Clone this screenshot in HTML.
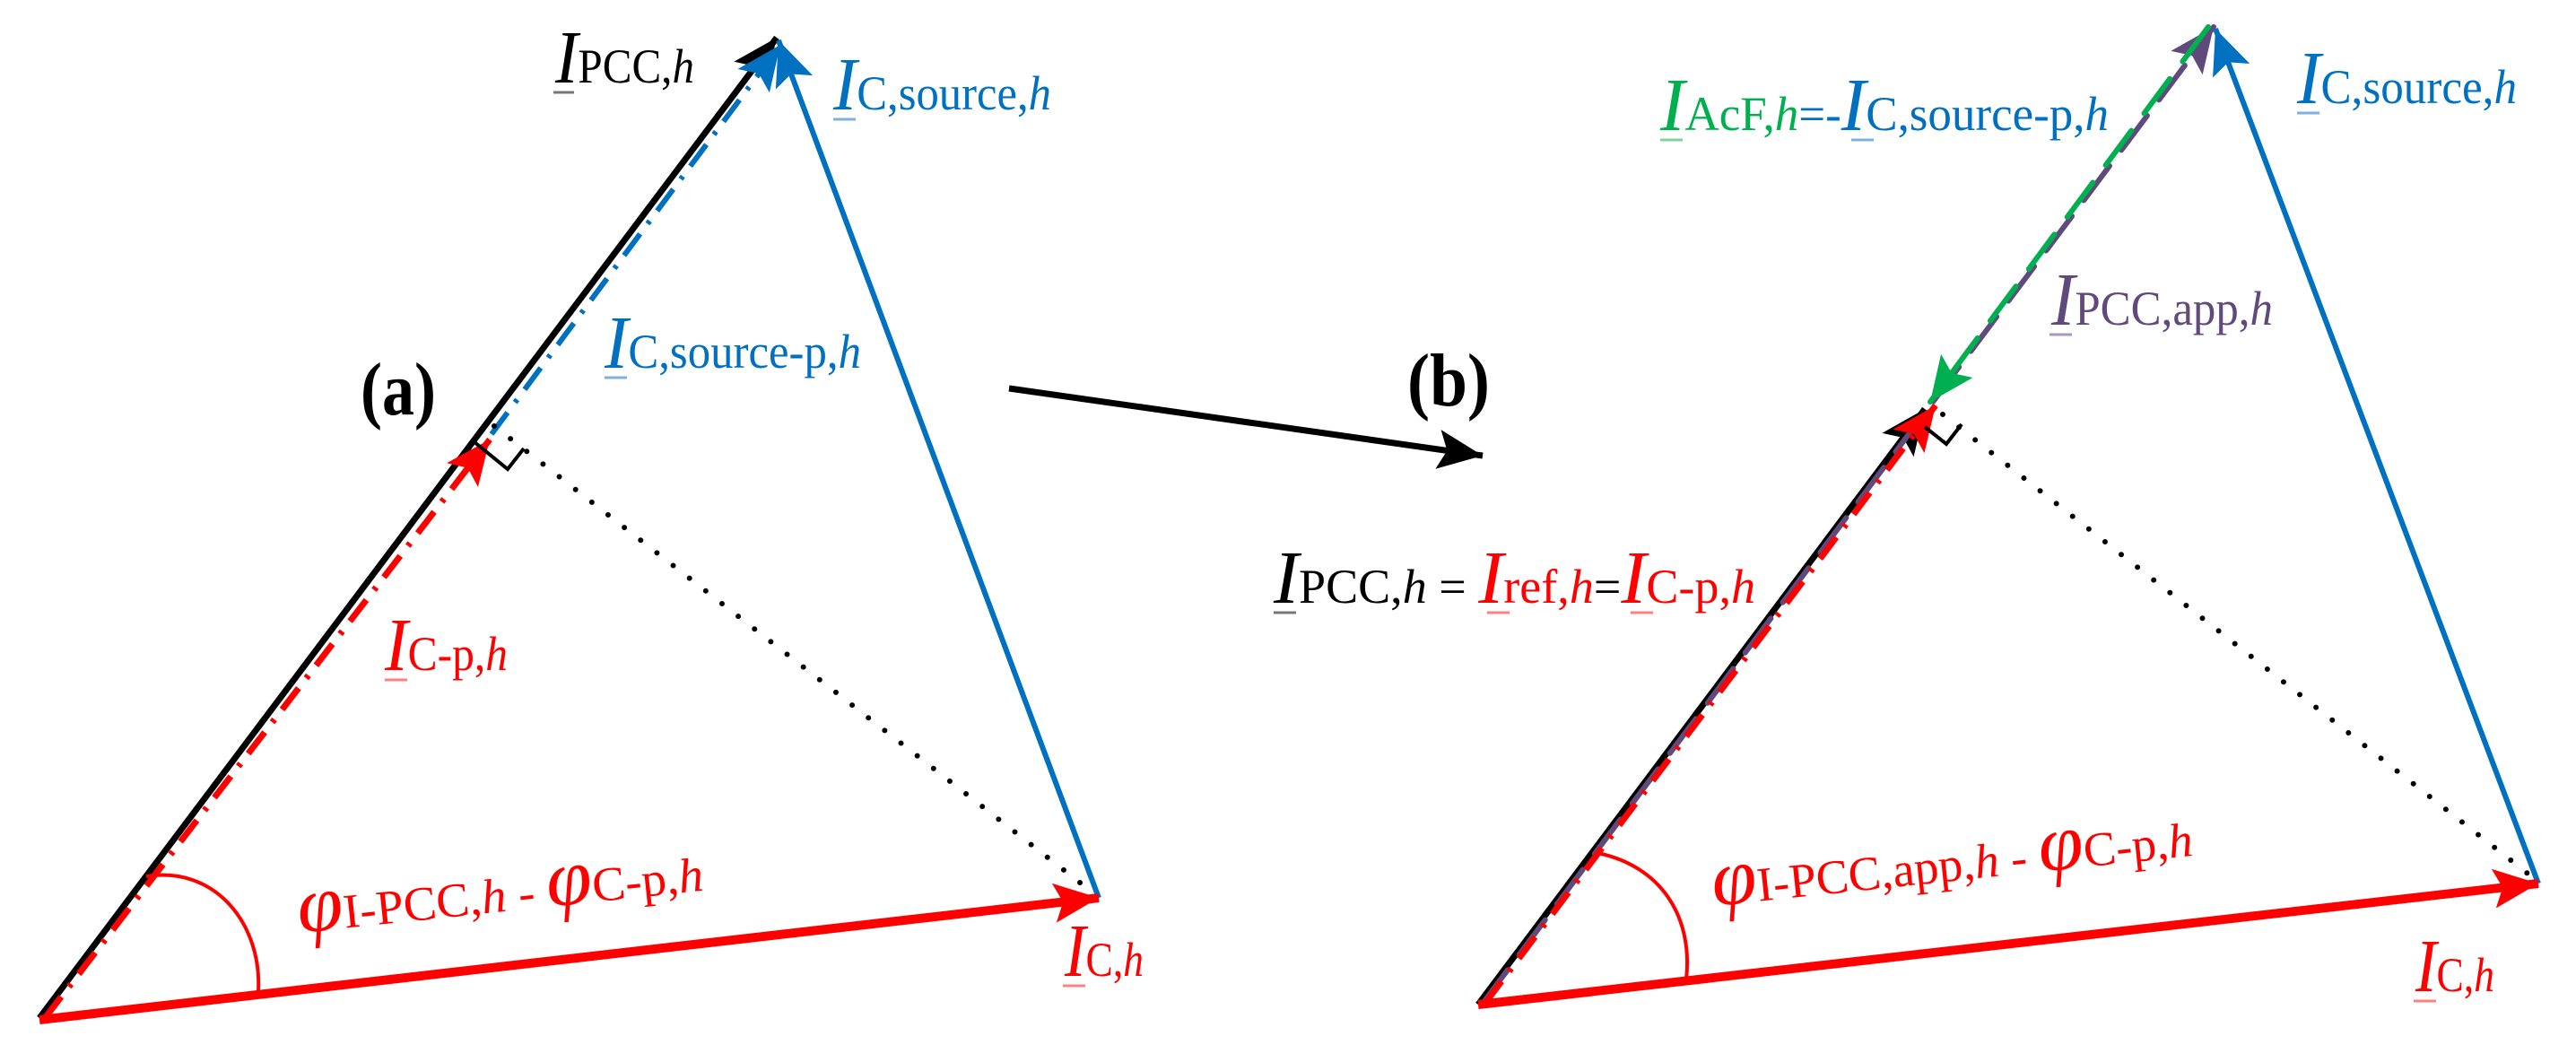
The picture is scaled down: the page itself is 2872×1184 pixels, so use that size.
<!DOCTYPE html>
<html><head><meta charset="utf-8"><style>
html,body{margin:0;padding:0;background:#fff}
svg{display:block}
text{font-family:"Liberation Serif",serif}
.I{font-style:italic;font-size:84px}
.s{font-size:54px}
.h{font-style:italic;font-size:54px}
.p{font-size:90px;font-style:italic}
</style></head><body>
<svg width="2872" height="1184" viewBox="0 0 2872 1184" xmlns="http://www.w3.org/2000/svg">
<defs>
<marker id="mk" markerUnits="userSpaceOnUse" markerWidth="54" markerHeight="48" refX="50" refY="22" orient="auto"><path d="M0,0 L50,22 L0,44 L10,22 Z" fill="#000"/></marker>
<marker id="mb" markerUnits="userSpaceOnUse" markerWidth="54" markerHeight="48" refX="50" refY="22" orient="auto"><path d="M0,0 L50,22 L0,44 L10,22 Z" fill="#0070c0"/></marker>
<marker id="mr" markerUnits="userSpaceOnUse" markerWidth="54" markerHeight="48" refX="50" refY="22" orient="auto"><path d="M0,0 L50,22 L0,44 L10,22 Z" fill="#ff0000"/></marker>
<marker id="mg" markerUnits="userSpaceOnUse" markerWidth="54" markerHeight="48" refX="50" refY="22" orient="auto"><path d="M0,0 L50,22 L0,44 L10,22 Z" fill="#00b050"/></marker>
<marker id="mp" markerUnits="userSpaceOnUse" markerWidth="54" markerHeight="48" refX="50" refY="22" orient="auto"><path d="M0,0 L50,22 L0,44 L10,22 Z" fill="#604a7b"/></marker>
</defs>

<!-- LEFT PANEL -->
<line x1="44" y1="1135" x2="866" y2="42" stroke="#000" stroke-width="7" marker-end="url(#mk)"/>
<line x1="1225" y1="1001" x2="868" y2="45" stroke="#0070c0" stroke-width="6" marker-end="url(#mb)"/>
<line x1="548" y1="484" x2="870" y2="50" stroke="#0070c0" stroke-width="6" stroke-dasharray="30 14 4 14" marker-end="url(#mb)"/>
<line x1="50" y1="1135" x2="546" y2="490" stroke="#ff0000" stroke-width="7" stroke-dasharray="30 14 4 14" marker-end="url(#mr)"/>
<line x1="44" y1="1137" x2="1225" y2="1001" stroke="#ff0000" stroke-width="10" marker-end="url(#mr)"/>
<line x1="551" y1="475" x2="1222" y2="998" stroke="#000" stroke-width="6" stroke-linecap="round" stroke-dasharray="0 23"/>
<polyline points="529,493 566,523 584,500" fill="none" stroke="#000" stroke-width="4"/>
<path d="M163,977 C240,965 292,1030 288,1105" fill="none" stroke="#ff0000" stroke-width="4"/>
<!-- middle arrow -->
<line x1="1125" y1="433" x2="1653" y2="508" stroke="#000" stroke-width="7" marker-end="url(#mk)"/>

<text x="619" y="92" textLength="155" lengthAdjust="spacingAndGlyphs" fill="#000"><tspan class="I">I</tspan><tspan class="s">PCC,</tspan><tspan class="h">h</tspan></text>
<line x1="617" y1="103" x2="640" y2="103" stroke="#777" stroke-width="3"/>
<text x="929" y="122" textLength="243" lengthAdjust="spacingAndGlyphs" fill="#0070c0"><tspan class="I">I</tspan><tspan class="s">C,source,</tspan><tspan class="h">h</tspan></text>
<line x1="929" y1="133" x2="954" y2="133" stroke="#7fb0e0" stroke-width="3"/>
<text x="674" y="410" textLength="286" lengthAdjust="spacingAndGlyphs" fill="#0070c0"><tspan class="I">I</tspan><tspan class="s">C,source-p,</tspan><tspan class="h">h</tspan></text>
<line x1="674" y1="421" x2="699" y2="421" stroke="#7fb0e0" stroke-width="3"/>
<text x="402" y="462" textLength="84" lengthAdjust="spacingAndGlyphs" font-weight="bold" font-size="84">(a)</text>
<text x="429" y="747" textLength="137" lengthAdjust="spacingAndGlyphs" fill="#ff0000"><tspan class="I">I</tspan><tspan class="s">C-p,</tspan><tspan class="h">h</tspan></text>
<line x1="429" y1="758" x2="454" y2="758" stroke="#ff8080" stroke-width="3"/>
<text x="1187" y="1088" textLength="88" lengthAdjust="spacingAndGlyphs" fill="#ff0000"><tspan class="I">I</tspan><tspan class="s">C,</tspan><tspan class="h">h</tspan></text>
<line x1="1185" y1="1099" x2="1210" y2="1099" stroke="#ff8080" stroke-width="3"/>
<text x="334" y="1040" transform="rotate(-6 334 1040)" textLength="454" lengthAdjust="spacingAndGlyphs" fill="#ff0000"><tspan class="p">φ</tspan><tspan class="s">I-PCC,</tspan><tspan class="h">h</tspan><tspan class="s"> - </tspan><tspan class="p">φ</tspan><tspan class="s">C-p,</tspan><tspan class="h">h</tspan></text>

<!-- RIGHT PANEL -->
<line x1="1648" y1="1120" x2="2146" y2="456" stroke="#000" stroke-width="7" marker-end="url(#mk)"/>
<line x1="1652" y1="1120" x2="2468" y2="30" stroke="#604a7b" stroke-width="6" stroke-linecap="round" stroke-dasharray="48 22" marker-end="url(#mp)"/>
<line x1="2462" y1="30" x2="2152" y2="448" stroke="#00b050" stroke-width="6" stroke-linecap="round" stroke-dasharray="48 24" marker-end="url(#mg)"/>
<line x1="1656" y1="1118" x2="2158" y2="452" stroke="#ff0000" stroke-width="7" stroke-dasharray="30 14 4 14" marker-end="url(#mr)"/>
<line x1="2830" y1="985" x2="2470" y2="32" stroke="#0070c0" stroke-width="6" marker-end="url(#mb)"/>
<line x1="1648" y1="1120" x2="2830" y2="985" stroke="#ff0000" stroke-width="10" marker-end="url(#mr)"/>
<line x1="2166" y1="462" x2="2826" y2="980" stroke="#000" stroke-width="6" stroke-linecap="round" stroke-dasharray="0 23"/>
<polyline points="2146,476 2170,495 2187,473" fill="none" stroke="#000" stroke-width="4"/>
<path d="M1781,951 C1850,965 1888,1020 1880,1092" fill="none" stroke="#ff0000" stroke-width="4"/>

<text x="1569" y="452" textLength="92" lengthAdjust="spacingAndGlyphs" font-weight="bold" font-size="84">(b)</text>
<text x="1851" y="145" textLength="500" lengthAdjust="spacingAndGlyphs"><tspan class="I" fill="#00b050">I</tspan><tspan class="s" fill="#00b050">AcF,</tspan><tspan class="h" fill="#00b050">h</tspan><tspan class="s" fill="#0070c0">=-</tspan><tspan class="I" fill="#0070c0">I</tspan><tspan class="s" fill="#0070c0">C,source-p,</tspan><tspan class="h" fill="#0070c0">h</tspan></text>
<line x1="1851" y1="156" x2="1876" y2="156" stroke="#80d0a0" stroke-width="3"/>
<line x1="2064" y1="156" x2="2089" y2="156" stroke="#7fb0e0" stroke-width="3"/>
<text x="2561" y="115" textLength="245" lengthAdjust="spacingAndGlyphs" fill="#0070c0"><tspan class="I">I</tspan><tspan class="s">C,source,</tspan><tspan class="h">h</tspan></text>
<line x1="2561" y1="126" x2="2586" y2="126" stroke="#7fb0e0" stroke-width="3"/>
<text x="2287" y="362" textLength="247" lengthAdjust="spacingAndGlyphs" fill="#604a7b"><tspan class="I">I</tspan><tspan class="s">PCC,app,</tspan><tspan class="h">h</tspan></text>
<line x1="2285" y1="373" x2="2310" y2="373" stroke="#a898c0" stroke-width="3"/>
<text x="1420" y="672" textLength="537" lengthAdjust="spacingAndGlyphs"><tspan class="I" fill="#000">I</tspan><tspan class="s" fill="#000">PCC,</tspan><tspan class="h" fill="#000">h</tspan><tspan class="s" fill="#000"> = </tspan><tspan class="I" fill="#ff0000">I</tspan><tspan class="s" fill="#ff0000">ref,</tspan><tspan class="h" fill="#ff0000">h</tspan><tspan class="s" fill="#000">=</tspan><tspan class="I" fill="#ff0000">I</tspan><tspan class="s" fill="#ff0000">C-p,</tspan><tspan class="h" fill="#ff0000">h</tspan></text>
<line x1="1420" y1="683" x2="1445" y2="683" stroke="#777" stroke-width="3"/>
<line x1="1658" y1="683" x2="1683" y2="683" stroke="#ff8080" stroke-width="3"/>
<line x1="1818" y1="683" x2="1843" y2="683" stroke="#ff8080" stroke-width="3"/>
<text x="1911" y="1010" transform="rotate(-6 1911 1010)" textLength="538" lengthAdjust="spacingAndGlyphs" fill="#ff0000"><tspan class="p">φ</tspan><tspan class="s">I-PCC,app,</tspan><tspan class="h">h</tspan><tspan class="s"> - </tspan><tspan class="p">φ</tspan><tspan class="s">C-p,</tspan><tspan class="h">h</tspan></text>
<text x="2693" y="1105" textLength="88" lengthAdjust="spacingAndGlyphs" fill="#ff0000"><tspan class="I">I</tspan><tspan class="s">C,</tspan><tspan class="h">h</tspan></text>
<line x1="2691" y1="1116" x2="2716" y2="1116" stroke="#ff8080" stroke-width="3"/>
</svg>
</body></html>
